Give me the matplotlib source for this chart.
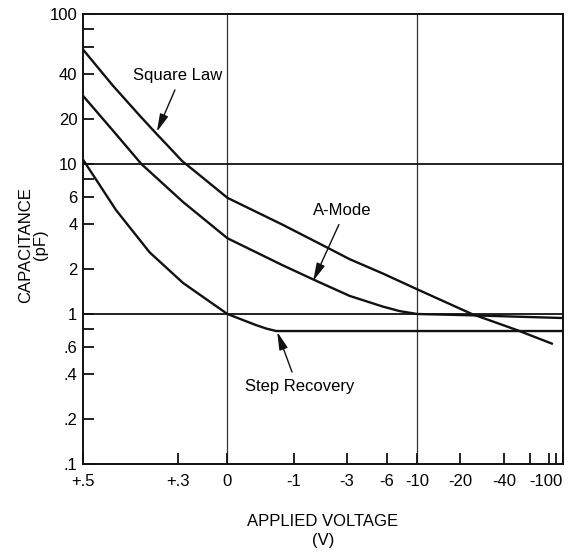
import numpy as np
import matplotlib.pyplot as plt
from matplotlib.ticker import FixedLocator, FixedFormatter, NullFormatter

plt.rcParams['font.family'] = ['Liberation Sans', 'DejaVu Sans']

PHI = 0.56  # offset used by the voltage axis: position ~ log10(PHI - V)

# Applied voltage (V) and capacitance (pF)
sq_v = [0.5, 0.465, 0.415, 0.372, 0.33, 0.283, 0.216, 0, -0.76, -2.16, -3.15, -5.65, -10, -24, -49, -84]
sq_c = [58, 33.4, 20.9, 15.8, 12.8, 10.5, 8.83, 5.95, 3.93, 2.72, 2.32, 1.86, 1.46, 1.0, 0.78, 0.635]

am_v = [0.5, 0.46, 0.412, 0.278, 0, -0.76, -1.55, -3.15, -5.65, -7.5, -10, -24, -100]
am_c = [28.5, 15.8, 10, 5.58, 3.2, 2.11, 1.70, 1.32, 1.12, 1.045, 1.0, 0.98, 0.94]

sr_v = [0.5, 0.46, 0.392, 0.278, 0, -0.31, -0.46, -0.63, -100]
sr_c = [10.7, 4.93, 2.58, 1.61, 1.0, 0.844, 0.80, 0.77, 0.77]

x_ticks = [0.5, 0.3, 0, -1, -3, -6, -10, -20, -40, -100]
x_labels = ['+.5', '+.3', '0', '-1', '-3', '-6', '-10', '-20', '-40', '-100']
x_minor = [-60, -80, -90]

y_ticks = [0.1, 0.2, 0.4, 0.6, 1, 2, 4, 6, 10, 20, 40, 100]
y_labels = ['.1', '.2', '.4', '.6', '1', '2', '4', '6', '10', '20', '40', '100']
y_minor = [0.8, 8, 60, 80]


def fwd(v):
    return np.log10(np.maximum(PHI - np.asarray(v, dtype=float), 1e-6))


def inv(u):
    return PHI - 10**np.asarray(u, dtype=float)


fig = plt.figure(figsize=(5.71, 5.53), dpi=100)
ax = fig.add_axes([83/571, 1-464/553, 480/571, 450/553])

ax.set_xscale('function', functions=(fwd, inv))
ax.set_yscale('log')
ax.set_xlim(-100, 0.5)
ax.set_ylim(0.1, 100)

# grid lines
for v in [0, -10]:
    ax.axvline(v, color='#333333', lw=0.9, zorder=1)
for c in [10, 1]:
    ax.axhline(c, color='#111111', lw=1.3, zorder=1)

lc = '#111111'
ax.plot(sq_v, sq_c, color=lc, lw=1.7, zorder=3, solid_joinstyle='round')
ax.plot(am_v, am_c, color=lc, lw=1.7, zorder=3, solid_joinstyle='round')
ax.plot(sr_v, sr_c, color=lc, lw=1.7, zorder=3, solid_joinstyle='round')

arrow = dict(arrowstyle='-|>,head_length=0.9,head_width=0.22', color=lc, lw=1.0,
             shrinkA=3, shrinkB=0)
ax.annotate('Square Law', xy=(0.372, 16.4), xytext=(0.30, 38.7), fontsize=12,
            ha='center', va='center', arrowprops=dict(arrow, relpos=(0.5, 0)))
ax.annotate('A-Mode', xy=(-1.55, 1.66), xytext=(-2.73, 4.9), fontsize=12,
            ha='center', va='center', arrowprops=dict(arrow, relpos=(0.5, 0)))
ax.annotate('Step Recovery', xy=(-0.65, 0.76), xytext=(-1.16, 0.33), fontsize=12,
            ha='center', va='center', arrowprops=dict(arrow, relpos=(0.45, 1)))

ax.xaxis.set_major_locator(FixedLocator(x_ticks))
ax.xaxis.set_major_formatter(FixedFormatter(x_labels))
ax.xaxis.set_minor_locator(FixedLocator(x_minor))
ax.xaxis.set_minor_formatter(NullFormatter())
ax.yaxis.set_major_locator(FixedLocator(y_ticks))
ax.yaxis.set_major_formatter(FixedFormatter(y_labels))
ax.yaxis.set_minor_locator(FixedLocator(y_minor))
ax.yaxis.set_minor_formatter(NullFormatter())

ax.tick_params(which='both', direction='in', length=8, width=1.3, color=lc, labelsize=12)
ax.tick_params(axis='x', pad=7)
ax.tick_params(axis='y', pad=4)
ax.get_xticklabels()[-1].set_ha('right')

for s in ax.spines.values():
    s.set_linewidth(1.4)
    s.set_color(lc)

fig.text(323/571, 1-531/553, 'APPLIED VOLTAGE\n(V)', ha='center', va='center',
         fontsize=12, linespacing=1.35)
fig.text(33/571, 1-245/553, 'CAPACITANCE\n(pF)', ha='center', va='center',
         fontsize=12, rotation=90, linespacing=1.0)

fig.savefig('out.png', dpi=100)
